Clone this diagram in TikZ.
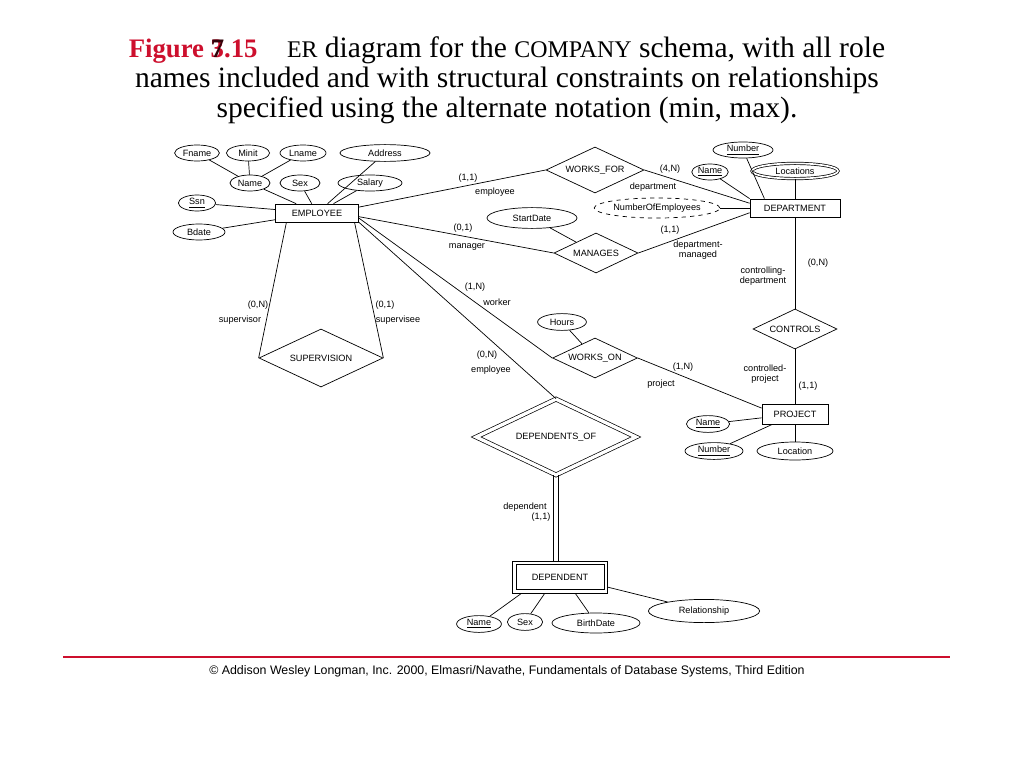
\documentclass[tikz,border=0pt]{standalone}
\usepackage{fontspec}
\setmainfont{Liberation Serif}
\newfontfamily\diagfont{Liberation Sans}
\usetikzlibrary{shapes.geometric}
\definecolor{figred}{RGB}{205,15,45}
\tikzset{
    every node/.style={font=\diagfont\fontsize{6.5}{7.5}\selectfont},
    entity/.style={draw, rectangle, inner sep=1pt, minimum height=0.45cm},
    attr/.style={draw, ellipse, inner sep=0.5pt, minimum height=0.4cm},
    multiattr/.style={attr, double, double distance=1.2pt},
    derivedattr/.style={attr, dashed},
    rel/.style={draw, diamond, inner sep=0pt, aspect=2},
    identrel/.style={rel, double, double distance=2.4pt},
    role/.style={inner sep=0pt, align=center},
}
\begin{document}
\begin{tikzpicture}[x=0.025cm, y=-0.025cm, line width=0.5pt]
            \useasboundingbox (0,0) rectangle (1024,768);
            \node[font=\fontsize{21}{21.2}\selectfont, align=center] (title) at (507,80)
                {{\fontsize{19}{20}\selectfont\textcolor{figred}{\textbf{Figure \rlap{3}\textcolor{black!75!figred}{7}.15}}}\quad
                 {\fontsize{17}{17}\selectfont ER} diagram for the {\fontsize{17}{17}\selectfont COMPANY} schema, with all role\\
                 names included and with structural constraints on relationships\\
                 specified using the alternate notation (min, max).};
            % EMPLOYEE
            \node[entity, minimum width=2.08cm] (emp) at (317,213) {EMPLOYEE};
            \node[attr, minimum width=1.12cm] (fname) at (197,153) {Fname};
            \node[attr, minimum width=1.08cm] (minit) at (248,153) {Minit};
            \node[attr, minimum width=1.15cm] (lname) at (303,153) {Lname};
            \node[attr, minimum width=2.25cm, minimum height=0.42cm] (address) at (385,153) {Address};
            \node[attr, minimum width=1.0cm] (ename) at (250,183) {Name};
            \node[attr, minimum width=1.0cm] (esex) at (300,183) {Sex};
            \node[attr, minimum width=1.6cm] (salary) at (370,183) {Salary};
            \node[attr, minimum width=0.93cm] (ssn) at (197,203) {\underline{Ssn}};
            \node[attr, minimum width=1.3cm] (bdate) at (199,232) {Bdate};
            \draw (fname) -- (ename);
            \draw (minit) -- (ename);
            \draw (lname) -- (ename);
            \draw (ename) -- (emp);
            \draw (esex) -- (emp);
            \draw (address) -- (emp);
            \draw (salary) -- (emp);
            \draw (ssn) -- (emp);
            \draw (bdate) -- (emp);
            % DEPARTMENT
            \node[entity, minimum width=2.25cm] (dept) at (795,208) {DEPARTMENT};
            \node[attr, minimum width=1.5cm] (dnumber) at (743,150) {\underline{Number}};
            \node[attr, minimum width=0.88cm] (dname) at (710,172) {\underline{Name}};
            \node[multiattr, minimum width=2.15cm, minimum height=0.38cm] (dloc) at (795,171) {Locations};
            \node[derivedattr, minimum width=3.0cm, minimum height=0.5cm] (numemp) at (657,208) {NumberOfEmployees};
            \draw (dnumber) -- (dept.163);
            \draw (dname) -- (dept.north west);
            \draw (dloc) -- (dept);
            \draw (numemp) -- (dept);
            % WORKS_FOR, MANAGES
            \node[rel, minimum width=2.45cm, minimum height=1.15cm] (wfor) at (595,170) {WORKS\_FOR};
            \node[rel, minimum width=2.1cm, minimum height=1.0cm] (manages) at (596,253) {MANAGES};
            \node[attr, minimum width=2.25cm, minimum height=0.52cm] (startdate) at (532,218) {StartDate};
            \draw (emp.8) -- (wfor.west);
            \draw (wfor.east) -- (dept.174);
            \draw (emp.-5) -- (manages.west);
            \draw (manages.east) -- (dept.186);
            \draw (startdate) -- (manages);
            \node[role] (wfor11) at (468,178) {(1,1)};
            \node[role] (wforemp) at (495,192) {employee};
            \node[role] (wfor4n) at (670,169) {(4,N)};
            \node[role] (wfordept) at (653,187) {department};
            \node[role] (man01) at (463,228) {(0,1)};
            \node[role] (manmgr) at (467,247) {manager};
            \node[role] (man11) at (670,230) {(1,1)};
            \node[role] (mandept) at (698,250) {department-\\managed};
            % CONTROLS, PROJECT
            \node[rel, minimum width=2.1cm, minimum height=1.0cm] (controls) at (795,329) {CONTROLS};
            \node[entity, minimum width=1.65cm, minimum height=0.5cm] (proj) at (795,414) {PROJECT};
            \node[attr, minimum width=1.08cm, minimum height=0.42cm] (pname) at (708,424) {\underline{Name}};
            \node[attr, minimum width=1.45cm, minimum height=0.42cm] (pnumber) at (714,451) {\underline{Number}};
            \node[attr, minimum width=1.9cm, minimum height=0.45cm] (ploc) at (795,451) {Location};
            \draw (dept) -- (controls);
            \draw (controls) -- (proj);
            \draw (proj) -- (pname);
            \draw (proj) -- (pnumber);
            \draw (proj) -- (ploc);
            \node[role] (con0n) at (818,263) {(0,N)};
            \node[role] (condept) at (763,276) {controlling-\\department};
            \node[role] (conproj) at (765,374) {controlled-\\project};
            \node[role] (con11) at (808,386) {(1,1)};
            % WORKS_ON
            \node[rel, minimum width=2.12cm, minimum height=1.0cm] (workson) at (595,358) {WORKS\_ON};
            \node[attr, minimum width=1.22cm, minimum height=0.42cm] (hours) at (562,322) {Hours};
            \draw (emp.-7) -- (workson.west);
            \draw (workson.east) -- (proj.170);
            \draw (hours) -- (workson);
            \node[role] (won1n) at (475,287) {(1,N)};
            \node[role] (wonworker) at (497,302) {worker};
            \node[role] (wonp1n) at (683,367) {(1,N)};
            \node[role] (wonproj) at (661,384) {project};
            % SUPERVISION
            \node[rel, minimum width=3.1cm, minimum height=1.45cm] (superv) at (321,358) {SUPERVISION};
            \draw (emp.-163) -- (superv.west);
            \draw (emp.-14) -- (superv.east);
            \node[role] (sup0n) at (258,305) {(0,N)};
            \node[role] (supsor) at (240,320) {supervisor};
            \node[role] (sup01) at (385,305) {(0,1)};
            \node[role] (supsee) at (398,320) {supervisee};
            % DEPENDENTS_OF, DEPENDENT
            \node[identrel, minimum width=4.0cm, minimum height=1.9cm] (depof) at (556,437) {DEPENDENTS\_OF};
            \node[entity, minimum width=2.38cm, minimum height=0.8cm] (dep) at (560,577) {DEPENDENT};
            \draw ([xshift=0.1cm, yshift=0.09cm]dep.south west) rectangle ([xshift=-0.1cm, yshift=-0.09cm]dep.north east);
            \node[attr, minimum width=1.12cm, minimum height=0.42cm] (depname) at (479,624) {\underline{Name}};
            \node[attr, minimum width=0.88cm, minimum height=0.42cm] (depsex) at (525,622) {Sex};
            \node[attr, minimum width=2.2cm, minimum height=0.5cm] (bdate2) at (596,623) {BirthDate};
            \node[attr, minimum width=2.78cm, minimum height=0.58cm] (relship) at (704,611) {Relationship};
            \draw (emp.south east) -- (depof.north);
            \draw ([xshift=-0.06cm]depof.south) -- ([xshift=-0.06cm]depof.south |- dep.north);
            \draw ([xshift=0.06cm]depof.south) -- ([xshift=0.06cm]depof.south |- dep.north);
            \draw (dep.-157) -- (depname);
            \draw (dep.-133) -- (depsex);
            \draw (dep.-47) -- (bdate2);
            \draw (dep.-12) -- (relship);
            \node[role] (dof0n) at (487,355) {(0,N)};
            \node[role] (dofemp) at (491,370) {employee};
            \node[role] (dofdep) at (525,507) {dependent};
            \node[role] (dof11) at (541,517) {(1,1)};
            % footer
            \coordinate (rulel) at (63,657);
            \coordinate (ruler) at (950,657);
            \draw[figred, line width=0.8pt] (rulel) -- (ruler);
            \node[font=\diagfont\fontsize{8.8}{10}\selectfont] (credit) at (507,671)
                {© Addison Wesley Longman, Inc. 2000, Elmasri/Navathe, Fundamentals of Database Systems, Third Edition};
        \end{tikzpicture}
\end{document}
